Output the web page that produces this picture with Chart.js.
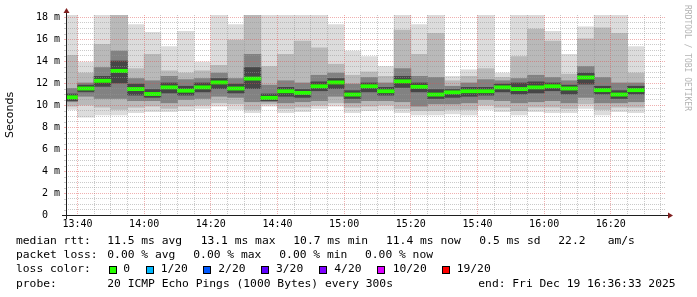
<!DOCTYPE html>
<html><head><meta charset="utf-8">
<script src="https://cdn.jsdelivr.net/npm/chart.js@4/dist/chart.umd.min.js"></script>
<style>
html,body{margin:0;padding:0;background:#fff;}
#wrap{position:relative;width:697px;height:297px;overflow:hidden;background:#fff;}
#c{position:absolute;left:0;top:0;}
.t{position:absolute;font-family:"DejaVu Sans Mono",monospace;font-size:11.3px;line-height:14px;color:#000;white-space:pre;}
.box{position:absolute;width:6px;height:6px;border:1px solid #000;}
#wm{position:absolute;left:682px;top:5px;writing-mode:vertical-rl;font-family:"DejaVu Sans Mono",monospace;font-size:8px;line-height:10px;color:#b3b3b3;white-space:pre;}
</style></head>
<body>
<div id="wrap">
<canvas id="c" width="697" height="235"></canvas>
<div id="wm">RRDTOOL / TOBI OETIKER</div>
<div id="legend"></div>
</div>
<script>
// 5-minute slots (end time of each slot)
const slotEnds = ['13:40','13:45','13:50','13:55','14:00','14:05','14:10','14:15','14:20','14:25','14:30','14:35','14:40','14:45','14:50','14:55','15:00','15:05','15:10','15:15','15:20','15:25','15:30','15:35','15:40','15:45','15:50','15:55','16:00','16:05','16:10','16:15','16:20','16:25','16:30'];
// RTT distribution per slot (ms)
const minVals = [9.6,8.9,9.1,9.1,9.3,9.4,9.4,9.5,9.7,9.9,9.6,9.3,9.9,9.3,9.4,9.7,9.9,9.3,9.5,9.6,9.3,9.1,9.1,9.2,9.1,9.6,9.4,9.1,9.4,9.3,9.3,9.7,9.1,9.4,9.3];
const q10Vals = [9.9,10.0,9.8,9.6,9.8,9.9,9.7,9.9,10.0,10.2,10.1,9.6,10.1,9.7,9.8,10.0,10.2,9.8,9.9,10.0,9.7,9.5,9.5,9.6,9.6,10.0,9.8,9.5,9.8,9.8,9.7,10.1,9.6,9.8,9.8];
const q25Vals = [10.3,10.8,10.6,10.6,10.4,10.4,10.2,10.5,10.6,10.8,10.7,10.3,10.3,10.2,10.3,10.4,10.8,10.2,10.4,10.4,10.3,9.9,10.1,10.1,10.2,10.5,10.4,10.2,10.3,10.4,10.2,10.7,10.2,10.2,10.3];
const q40Vals = [10.4,11.2,11.7,12.0,10.9,10.7,11.1,10.9,11.2,11.5,11.1,11.5,10.4,10.8,10.7,11.3,11.5,10.6,11.2,10.9,11.6,11.2,10.6,10.7,10.8,10.9,11.2,11.0,11.1,11.3,11.0,11.9,11.0,10.6,11.0];
const medianVals = [10.7,11.5,12.2,13.1,11.45,11.0,11.6,11.3,11.6,12.05,11.5,12.4,10.65,11.25,11.1,11.7,12.05,10.95,11.7,11.25,12.15,11.65,10.95,11.15,11.25,11.25,11.6,11.45,11.6,11.7,11.5,12.5,11.35,10.95,11.35];
const q60Vals = [11.0,11.8,12.6,14.0,11.9,11.4,12.0,11.7,12.0,12.4,11.9,13.4,11.0,11.6,11.4,12.1,12.4,11.3,12.0,11.6,12.6,12.0,11.4,11.4,11.6,11.6,11.9,12.0,12.1,12.0,11.8,12.9,11.7,11.3,11.7];
const q75Vals = [11.5,12.0,13.4,14.9,12.4,12.2,12.6,12.3,12.4,12.9,12.4,14.6,11.8,12.2,12.0,12.7,12.9,11.9,12.5,12.0,13.3,12.6,12.5,11.7,12.0,12.3,12.2,12.4,12.7,12.5,12.2,13.5,12.5,12.0,12.0];
const q90Vals = [14.5,12.9,15.5,18.5,13.3,14.6,13.1,12.9,13.1,13.6,15.9,18.5,13.5,14.6,15.8,15.2,13.7,12.7,13.0,12.6,16.8,14.6,16.5,12.2,12.6,13.3,12.5,14.4,16.9,15.8,12.8,16.0,17.0,16.5,12.9];
const maxVals = [18.5,13.9,18.5,18.5,17.3,16.6,15.3,16.7,13.9,18.3,17.3,18.5,18.3,18.3,18.4,18.3,17.3,14.9,14.4,13.5,18.3,17.3,18.4,12.6,13.2,18.3,12.9,18.3,18.3,16.7,14.6,17.1,18.4,18.4,15.3];
// axis ticks
const yTickValues = [0,0.5,1,1.5,2,2.5,3,3.5,4,4.5,5,5.5,6,6.5,7,7.5,8,8.5,9,9.5,10,10.5,11,11.5,12,12.5,13,13.5,14,14.5,15,15.5,16,16.5,17,17.5,18];
const yTickLabels = {0:'0  ',2:'2 m',4:'4 m',6:'6 m',8:'8 m',10:'10 m',12:'12 m',14:'14 m',16:'16 m',18:'18 m'};
const xTickTimes = ['13:40','13:45','13:50','13:55','14:00','14:05','14:10','14:15','14:20','14:25','14:30','14:35','14:40','14:45','14:50','14:55','15:00','15:05','15:10','15:15','15:20','15:25','15:30','15:35','15:40','15:45','15:50','15:55','16:00','16:05','16:10','16:15','16:20','16:25','16:30','16:35'];
const xTickLabels = ['13:40','14:00','14:20','14:40','15:00','15:20','15:40','16:00','16:20'];
const rangeStart = '13:36:33', rangeEnd = '16:36:33';

function toMin(s){const p=s.split(':').map(Number);return p[0]*60+p[1]+(p[2]||0)/60;}
function fmt(m){const h=Math.floor(m/60), mm=Math.round(m-h*60);return String(h).padStart(2,'0')+':'+String(mm).padStart(2,'0');}

function layer(lo,hi,color,order){
  return {type:'bar',data:slotEnds.map((t,i)=>({x:toMin(t)-2.5,y:[lo[i],hi[i]]})),
    backgroundColor:color,borderWidth:0,grouped:false,barPercentage:1,categoryPercentage:1,
    inflateAmount:0.4,order:order,clip:{left:0,top:0,right:0,bottom:0}};
}
const medLo = medianVals.map(v=>v-0.14), medHi = medianVals.map(v=>v+0.14);

const MINOR='rgba(150,150,150,0.5)', MAJOR='rgba(222,79,79,0.45)';
const rrdAxes = {id:'rrdAxes',afterDraw(chart){
  const {ctx,chartArea:a,scales}=chart;
  ctx.save();
  // small outside ticks like rrdtool
  ctx.lineWidth=1;
  yTickValues.forEach(v=>{const y=Math.round(scales.y.getPixelForValue(v))+0.5;
    ctx.strokeStyle=yTickLabels[v]!==undefined?MAJOR:MINOR;ctx.beginPath();ctx.moveTo(a.left-2,y);ctx.lineTo(a.left,y);ctx.stroke();});
  ctx.strokeStyle='rgb(31,31,31)';
  ctx.beginPath();
  ctx.moveTo(a.left-4,a.bottom+0.5);ctx.lineTo(a.right+4,a.bottom+0.5);
  ctx.moveTo(a.left+0.5,a.bottom+4);ctx.lineTo(a.left+0.5,a.top-4);
  ctx.stroke();
  ctx.fillStyle='rgb(128,31,31)';
  ctx.beginPath();ctx.moveTo(a.right+2,a.bottom+0.5-3);ctx.lineTo(a.right+2,a.bottom+0.5+3);ctx.lineTo(a.right+7,a.bottom+0.5);ctx.closePath();ctx.fill();
  ctx.beginPath();ctx.moveTo(a.left+0.5-3,a.top-2);ctx.lineTo(a.left+0.5+3,a.top-2);ctx.lineTo(a.left+0.5,a.top-7);ctx.closePath();ctx.fill();
  ctx.restore();
}};

new Chart(document.getElementById('c'),{
  type:'bar',
  data:{datasets:[
    layer(medLo,medHi,'#26ff00',0),
    layer(q40Vals,q60Vals,'#464646',1),
    layer(q25Vals,q75Vals,'#828282',2),
    layer(q10Vals,q90Vals,'#b9b9b9',3),
    layer(minVals,maxVals,'#dcdcdc',4)
  ]},
  options:{
    responsive:false,devicePixelRatio:1,animation:false,
    layout:{padding:{top:15,right:31,left:0,bottom:0}},
    plugins:{legend:{display:false},tooltip:{enabled:false}},
    scales:{
      x:{type:'linear',min:toMin(rangeStart),max:toMin(rangeEnd),offset:false,
        afterBuildTicks:s=>{s.ticks=xTickTimes.map(t=>({value:toMin(t)}));},
        afterFit:s=>{s.height=20;},
        ticks:{autoSkip:false,maxRotation:0,minRotation:0,padding:3,color:'#000',
          font:{family:'DejaVu Sans Mono',size:10},
          callback:v=>{const l=fmt(v);return xTickLabels.includes(l)?l:'';}},
        grid:{offset:false,drawTicks:false,z:1,lineWidth:1,
          color:c=>{const l=fmt(c.tick.value);return xTickLabels.includes(l)?MAJOR:MINOR;}},
        border:{display:false,dash:[1,1]}
      },
      y:{type:'linear',min:0,max:200/11,
        afterBuildTicks:s=>{s.ticks=yTickValues.map(v=>({value:v}));},
        afterFit:s=>{s.width=66;},
        ticks:{autoSkip:false,padding:6,color:'#000',font:{family:'DejaVu Sans Mono',size:10},
          callback:v=>yTickLabels[v]!==undefined?yTickLabels[v]:''},
        grid:{drawTicks:false,z:1,lineWidth:1,
          color:c=>(yTickLabels[c.tick.value]!==undefined?MAJOR:MINOR)},
        border:{display:false,dash:[1,1]},
        title:{display:true,text:'Seconds',color:'#000',font:{family:'DejaVu Sans',size:11},padding:{top:4,bottom:0}}
      }
    }
  },
  plugins:[rrdAxes]
});

// legend text (HTML)
const L=document.getElementById('legend');
function txt(x,y,s){const d=document.createElement('div');d.className='t';d.style.left=x+'px';d.style.top=y+'px';d.textContent=s;L.appendChild(d);}
function box(x,y,c){const d=document.createElement('div');d.className='box';d.style.left=x+'px';d.style.top=y+'px';d.style.background=c;L.appendChild(d);}
const r1=234.3,r2=248.3,r3=262.3,r4=276.7;
[[16,'median rtt:'],[107.3,'11.5 ms avg'],[200.7,'13.1 ms max'],[293.3,'10.7 ms min'],[386,'11.4 ms now'],[479.3,'0.5 ms sd'],[558.3,'22.2'],[607.7,'am/s']].forEach(a=>txt(a[0],r1,a[1]));
[[16,'packet loss:'],[107.3,'0.00 % avg'],[193.3,'0.00 % max'],[279.3,'0.00 % min'],[365,'0.00 % now']].forEach(a=>txt(a[0],r2,a[1]));
txt(16,r3,'loss color:');
const lossItems=[[108.7,123.3,'#26ff00','0'],[145.7,160.7,'#00b8ff','1/20'],[203.3,218.3,'#0059ff','2/20'],[261,276,'#5e00ff','3/20'],[319.3,334.3,'#7e00ff','4/20'],[377.3,392.7,'#dd00ff','10/20'],[441.7,456.7,'#ff0000','19/20']];
lossItems.forEach(a=>{box(a[0],266,a[2]);txt(a[1],r3,a[3]);});
[[16,'probe:'],[107.3,'20 ICMP Echo Pings (1000 Bytes) every 300s'],[478.3,'end: Fri Dec 19 16:36:33 2025']].forEach(a=>txt(a[0],r4,a[1]));
</script>
</body></html>
